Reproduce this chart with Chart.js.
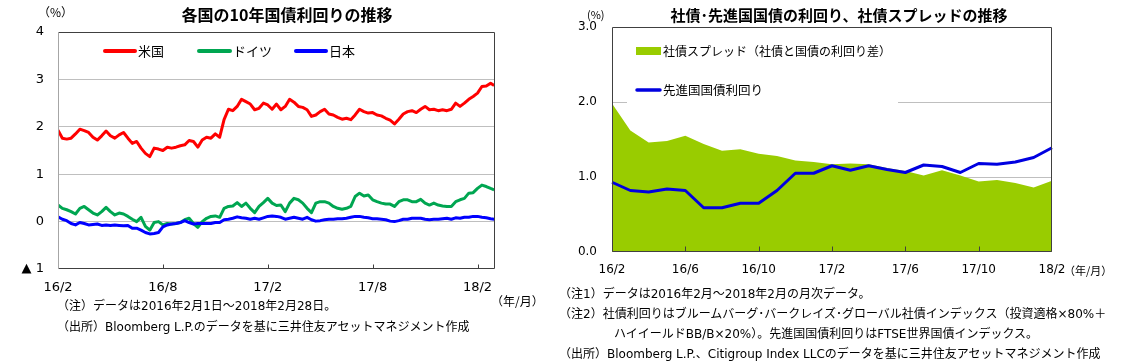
<!DOCTYPE html>
<html><head><meta charset="utf-8">
<script src="https://cdn.jsdelivr.net/npm/chart.js@4.4.1/dist/chart.umd.min.js"></script>
<style>
html,body{margin:0;padding:0;background:#fff;width:1139px;height:364px;overflow:hidden;}
#wrap{position:relative;width:1139px;height:364px;}
canvas{position:absolute;top:0;}
#c1{left:0;}
#c2{left:560px;}
.t{position:absolute;white-space:nowrap;font-family:"Noto Sans CJK JP",sans-serif;color:#000;line-height:1;}
.n{font-family:"DejaVu Sans","Noto Sans CJK JP",sans-serif;}
.b{font-weight:bold;text-align:center;}
</style></head>
<body><div id="wrap">
<canvas id="c1" width="560" height="364"></canvas>
<canvas id="c2" width="579" height="364"></canvas>

<div class="t" style="left:38px;top:6px;font-size:12px;">（%）</div>
<div class="t b" style="left:87px;width:400px;top:6px;font-size:16px;">各国の10年国債利回りの推移</div>
<div class="t" style="left:491px;top:295px;font-size:12px;">（年/月）</div>
<div class="t n" style="left:57px;top:300px;font-size:12px;">（注）データは2016年2月1日～2018年2月28日。</div>
<div class="t n" style="left:57px;top:321px;font-size:12px;">（出所）Bloomberg L.P.のデータを基に三井住友アセットマネジメント作成</div>

<div class="t" style="left:587px;top:9px;font-size:11px;">(%)</div>
<div class="t b" style="left:639px;width:400px;top:7px;font-size:15px;">社債･先進国国債の利回り、社債スプレッドの推移</div>
<div class="t" style="left:1064px;top:265px;font-size:11px;">（年/月）</div>
<div class="t n" style="left:559px;top:288px;font-size:12px;">（注1）データは2016年2月～2018年2月の月次データ。</div>
<div class="t n" style="left:559px;top:308px;font-size:12px;">（注2）社債利回りはブルームバーグ･バークレイズ･グローバル社債インデックス（投資適格×80%＋</div>
<div class="t n" style="left:614px;top:328px;font-size:12px;">ハイイールドBB/B×20%）。先進国国債利回りはFTSE世界国債インデックス。</div>
<div class="t n" style="left:559px;top:348px;font-size:12px;">（出所）Bloomberg L.P.、Citigroup Index LLCのデータを基に三井住友アセットマネジメント作成</div>
</div>
<script>
// ---------------- Left chart data (10y yields, %, sampled every quarter-month from 2016/2/1; last = 2018/2/28) ----------------
const sampleStepMonths = 0.25;
const lastSampleMonth = 24.95;
const usYield = [1.93,1.76,1.74,1.76,1.85,1.95,1.92,1.88,1.78,1.72,
 1.81,1.91,1.81,1.76,1.83,1.88,1.76,1.65,1.69,1.55,
 1.44,1.37,1.55,1.53,1.50,1.57,1.55,1.57,1.60,1.62,
 1.71,1.69,1.57,1.72,1.78,1.76,1.85,1.78,2.15,2.37,
 2.34,2.43,2.58,2.53,2.48,2.36,2.39,2.50,2.46,2.37,
 2.48,2.36,2.43,2.58,2.52,2.43,2.41,2.36,2.22,2.25,
 2.32,2.37,2.27,2.25,2.20,2.16,2.18,2.15,2.25,2.37,
 2.32,2.29,2.30,2.25,2.23,2.18,2.14,2.06,2.16,2.27,
 2.32,2.34,2.30,2.37,2.43,2.36,2.37,2.34,2.36,2.34,
 2.37,2.50,2.43,2.50,2.58,2.64,2.71,2.85,2.86,2.92,
 2.87];
const deYield = [0.35,0.28,0.25,0.21,0.16,0.28,0.32,0.25,0.18,0.14,
 0.21,0.30,0.21,0.14,0.18,0.16,0.11,0.05,0.00,0.09,
 -0.10,-0.18,-0.02,0.00,-0.07,-0.04,-0.05,-0.04,-0.02,0.04,
 0.07,-0.04,-0.12,0.00,0.07,0.11,0.12,0.09,0.28,0.32,
 0.33,0.40,0.32,0.39,0.28,0.19,0.32,0.40,0.49,0.39,
 0.34,0.35,0.21,0.39,0.49,0.46,0.39,0.28,0.19,0.39,
 0.42,0.42,0.39,0.32,0.28,0.26,0.28,0.32,0.53,0.60,
 0.54,0.56,0.46,0.42,0.39,0.37,0.37,0.32,0.42,0.46,
 0.46,0.42,0.42,0.47,0.39,0.35,0.39,0.35,0.33,0.32,
 0.32,0.42,0.46,0.49,0.60,0.61,0.70,0.77,0.74,0.70,
 0.67];
const jpYield = [0.10,0.05,0.02,-0.04,-0.07,-0.02,-0.04,-0.07,-0.06,-0.05,
 -0.08,-0.07,-0.08,-0.07,-0.08,-0.09,-0.08,-0.14,-0.14,-0.18,
 -0.23,-0.26,-0.25,-0.23,-0.11,-0.07,-0.05,-0.04,-0.02,0.02,
 -0.02,-0.05,-0.04,-0.04,-0.04,-0.04,-0.02,-0.02,0.04,0.05,
 0.07,0.10,0.08,0.07,0.05,0.07,0.05,0.08,0.11,0.12,
 0.11,0.09,0.05,0.07,0.09,0.07,0.05,0.09,0.04,0.01,
 0.02,0.04,0.05,0.05,0.06,0.06,0.07,0.09,0.11,0.11,
 0.09,0.08,0.06,0.06,0.05,0.04,0.01,0.00,0.02,0.05,
 0.05,0.07,0.07,0.07,0.05,0.04,0.05,0.05,0.06,0.07,
 0.05,0.08,0.07,0.09,0.09,0.11,0.11,0.09,0.08,0.06,
 0.05];
const leftSeriesNames = ['米国','ドイツ','日本'];
const leftTickMonths = [0,6,12,18,24];
const leftTickLabels = ['16/2','16/8','17/2','17/8','18/2'];

// ---------------- Right chart data (monthly, %) ----------------
const rightMonths = ['16/2','16/3','16/4','16/5','16/6','16/7','16/8','16/9','16/10','16/11','16/12','17/1',
 '17/2','17/3','17/4','17/5','17/6','17/7','17/8','17/9','17/10','17/11','17/12','18/1','18/2'];
const corpSpread = [1.98,1.62,1.46,1.48,1.55,1.44,1.35,1.37,1.31,1.28,1.22,1.20,
 1.17,1.18,1.17,1.12,1.08,1.02,1.09,1.02,0.94,0.96,0.92,0.86,0.95];
const dmGovYield = [0.93,0.82,0.80,0.84,0.82,0.59,0.59,0.65,0.65,0.82,1.05,1.05,
 1.15,1.09,1.15,1.10,1.06,1.16,1.14,1.06,1.18,1.17,1.20,1.26,1.39];
const rightSeriesNames = ['社債スプレッド（社債と国債の利回り差）','先進国国債利回り'];
const rightTickEvery = 4;

// ---------------- helpers ----------------
const toPts = arr => arr.map((v,i) => ({x: i === arr.length-1 ? lastSampleMonth : i*sampleStepMonths, y: v}));
const numFont = {family:'"DejaVu Sans", sans-serif', size:13};
const jpFont = '"Noto Sans CJK JP", sans-serif';

function framePlugin(leftColor, tickIdx, tickLen){
  return {id:'frame', afterDatasetsDraw(chart){
    const {ctx, chartArea:a} = chart;
    const L=Math.round(a.left)+0.5, R=Math.round(a.right)-0.5, T=Math.round(a.top)+0.5, B=Math.round(a.bottom)-0.5;
    ctx.save(); ctx.lineWidth=1;
    ctx.strokeStyle='#404040';
    ctx.beginPath(); ctx.moveTo(L,T); ctx.lineTo(R,T); ctx.lineTo(R,B); ctx.lineTo(L,B); ctx.stroke();
    ctx.strokeStyle=leftColor;
    ctx.beginPath(); ctx.moveTo(L,T); ctx.lineTo(L,B); ctx.stroke();
    const xs = chart.scales.x;
    ctx.strokeStyle='#404040';
    ctx.beginPath();
    tickIdx.forEach(i => { const px = Math.round(xs.getPixelForTick(i))+0.5; ctx.moveTo(px,B); ctx.lineTo(px,B-tickLen); });
    ctx.stroke();
    ctx.restore();
  }};
}

// ---------------- Left chart ----------------
const leftColors = ['#FF0000','#00A651','#0000FF'];
const leftLegendPos = [[105,135,138],[199,230,233],[296,326,329]];
const leftLegend = {id:'lg1', afterDraw(chart){
  const ctx = chart.ctx; ctx.save();
  chart.data.datasets.slice().sort((a,b)=>a.legendIndex-b.legendIndex).forEach((ds,k)=>{
    const [x0,x1,tx] = leftLegendPos[k];
    ctx.strokeStyle = ds.borderColor; ctx.lineWidth = 4; ctx.lineCap='round';
    ctx.beginPath(); ctx.moveTo(x0,51); ctx.lineTo(x1,51); ctx.stroke();
    ctx.fillStyle='#000'; ctx.font='13px '+jpFont; ctx.textBaseline='middle';
    ctx.fillText(ds.label, tx, 51);
  });
  ctx.restore();
}};

new Chart(document.getElementById('c1'), {
  type:'line',
  data:{datasets:[
    {label:leftSeriesNames[2], legendIndex:2, data:toPts(jpYield), borderColor:leftColors[2], order:0},
    {label:leftSeriesNames[1], legendIndex:1, data:toPts(deYield), borderColor:leftColors[1], order:1},
    {label:leftSeriesNames[0], legendIndex:0, data:toPts(usYield), borderColor:leftColors[0], order:2}
  ]},
  options:{
    responsive:false, animation:false, events:[],
    datasets:{line:{borderWidth:3, pointRadius:0, tension:0, borderJoinStyle:'round', fill:false}},
    layout:{padding:{left:0, right:65, top:32, bottom:0}},
    plugins:{legend:{display:false}, tooltip:{enabled:false}, title:{display:false}},
    scales:{
      x:{type:'linear', min:0, max:25,
         afterBuildTicks:ax=>{ax.ticks = leftTickMonths.map(v=>({value:v}));},
         afterFit:s=>{s.height=95;},
         grid:{display:false, drawTicks:false}, border:{display:false},
         ticks:{font:numFont, color:'#000', padding:11, maxRotation:0, autoSkip:false,
                callback:(v,i)=>leftTickLabels[i]}},
      y:{min:-1, max:4,
         afterFit:s=>{s.width=58;},
         grid:{drawTicks:false, color:c=> (c.tick && c.tick.value>-1 && c.tick.value<4) ? '#BFBFBF' : 'rgba(0,0,0,0)'},
         border:{display:false},
         ticks:{stepSize:1, font:numFont, color:'#000', padding:14,
                callback:v=> v<0 ? '▲ '+(-v) : String(v)}}
    }
  },
  plugins:[framePlugin('#A6A6A6',[1,2,3,4],4), leftLegend]
});

// ---------------- Right chart ----------------
const rightLegend = {id:'lg2',
  beforeDatasetsDraw(chart){
    const ctx=chart.ctx; ctx.save(); ctx.fillStyle='#fff'; ctx.fillRect(67,36,271,68); ctx.restore();
  },
  afterDraw(chart){
    const ctx=chart.ctx; ctx.save();
    ctx.font='12px '+jpFont; ctx.textBaseline='middle'; ctx.fillStyle='#000';
    const area = chart.data.datasets[1], line = chart.data.datasets[0];
    ctx.fillStyle = area.backgroundColor; ctx.fillRect(76,47,25,8);
    ctx.fillStyle='#000'; ctx.fillText(area.label, 103, 51);
    ctx.strokeStyle=line.borderColor; ctx.lineWidth=3.5; ctx.lineCap='round';
    ctx.beginPath(); ctx.moveTo(77,90); ctx.lineTo(100,90); ctx.stroke();
    ctx.font='12.5px '+jpFont;
    ctx.fillStyle='#000'; ctx.fillText(line.label, 103, 90);
    ctx.restore();
  }};

const rightTickIdx = rightMonths.map((m,i)=>i).filter(i=>i>0 && i<rightMonths.length-1 && i%rightTickEvery===0);
new Chart(document.getElementById('c2'), {
  type:'line',
  data:{labels:rightMonths, datasets:[
    {label:rightSeriesNames[1], data:dmGovYield, borderColor:'#0000E0', borderWidth:3, pointRadius:0, tension:0, fill:false, order:0, borderJoinStyle:'round'},
    {label:rightSeriesNames[0], data:corpSpread, borderColor:'#99CC00', backgroundColor:'#99CC00', borderWidth:0, pointRadius:0, tension:0, fill:'origin', order:1}
  ]},
  options:{
    responsive:false, animation:false, events:[],
    layout:{padding:{left:0, right:87, top:27, bottom:0}},
    plugins:{legend:{display:false}, tooltip:{enabled:false}, filler:{propagate:false}},
    scales:{
      x:{type:'category', offset:false,
         afterFit:s=>{s.height=112;},
         grid:{display:false, drawTicks:false}, border:{display:false},
         ticks:{font:{family:'"DejaVu Sans", sans-serif', size:12}, color:'#000', padding:11, maxRotation:0, autoSkip:false,
                callback:(v,i)=> i%rightTickEvery===0 ? rightMonths[i] : ''}},
      y:{min:0, max:3,
         afterFit:s=>{s.width=52;},
         grid:{drawTicks:false, color:c=> (c.tick && c.tick.value>0 && c.tick.value<3) ? '#BFBFBF' : 'rgba(0,0,0,0)'},
         border:{display:false},
         ticks:{stepSize:1, font:{family:'"DejaVu Sans", sans-serif', size:12}, color:'#000', padding:15,
                callback:v=>Number(v).toFixed(1)}}
    }
  },
  plugins:[framePlugin('#404040', rightTickIdx, 5), rightLegend]
});
</script>
</body></html>
